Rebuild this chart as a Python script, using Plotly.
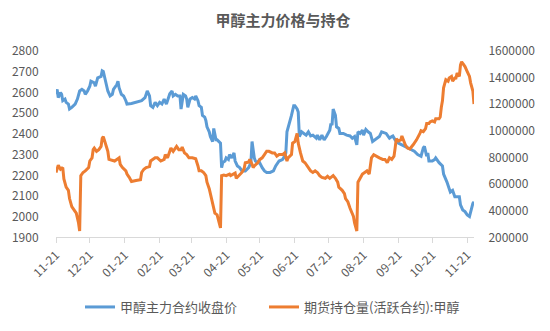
import pandas as pd
import plotly.graph_objects as go

# Calendar day offsets from 2020-11-21 for each observation
price_day = [0, 1, 2, 4, 5, 6, 8, 9, 11, 12, 14, 17, 19, 21, 23, 25, 26, 28, 30, 31,
             34, 35, 37, 40, 41, 42, 44, 46, 48, 50, 51, 54, 55, 56, 58, 60, 62, 63, 67, 71,
             76, 79, 81, 83, 84, 86, 88, 90, 92, 94, 96, 98, 100, 101, 103, 104, 106, 108, 110, 111,
             113, 115, 116, 117, 119, 121, 123, 124, 126, 127, 129, 130, 132, 133, 134, 136, 137, 139, 140, 142,
             143, 145, 146, 147, 148, 150, 151, 153, 154, 156, 158, 159, 161, 163, 165, 168, 171, 173, 174, 176,
             177, 179, 180, 183, 185, 187, 190, 193, 195, 198, 201, 202, 204, 205, 207, 208, 209, 211, 212, 214,
             215, 216, 218, 220, 222, 224, 226, 228, 231, 232, 234, 236, 238, 240, 243, 244, 245, 246, 248, 249,
             251, 252, 255, 258, 261, 263, 265, 267, 268, 270, 272, 273, 275, 277, 279, 281, 283, 285, 287, 289,
             291, 293, 295, 296, 298, 299, 301, 302, 304, 307, 309, 312, 315, 318, 321, 324, 326, 327, 329, 330,
             331, 334, 336, 337, 340, 342, 343, 344, 346, 347, 349, 350, 352, 353, 354, 356, 358, 359, 361, 363,
             365, 367, 368, 370, 371]
price_close = [2591, 2615, 2575, 2599, 2591, 2560, 2568, 2552, 2544, 2520, 2528, 2544, 2568, 2607, 2615, 2607, 2591, 2607, 2630, 2654,
               2646, 2630, 2670, 2677, 2704, 2701, 2654, 2607, 2583, 2591, 2615, 2638, 2654, 2623, 2591, 2583, 2560, 2544, 2547, 2552,
               2560, 2575, 2607, 2583, 2536, 2528, 2552, 2536, 2552, 2544, 2568, 2544, 2583, 2594, 2607, 2583, 2591, 2583, 2583, 2520,
               2591, 2583, 2568, 2528, 2568, 2575, 2568, 2583, 2560, 2536, 2528, 2489, 2481, 2465, 2434, 2410, 2387, 2363, 2426, 2371,
               2371, 2363, 2355, 2237, 2261, 2269, 2284, 2276, 2300, 2284, 2308, 2269, 2245, 2237, 2221, 2221, 2237, 2261, 2363, 2284,
               2269, 2261, 2269, 2237, 2221, 2214, 2214, 2221, 2245, 2269, 2276, 2284, 2308, 2410, 2450, 2458, 2489, 2536, 2536, 2520,
               2505, 2387, 2410, 2402, 2394, 2410, 2390, 2394, 2379, 2394, 2371, 2394, 2371, 2387, 2418, 2450, 2442, 2520, 2489, 2434,
               2426, 2402, 2402, 2394, 2390, 2379, 2387, 2347, 2410, 2402, 2418, 2394, 2421, 2410, 2402, 2363, 2371, 2379, 2387, 2410,
               2406, 2402, 2387, 2379, 2387, 2390, 2371, 2363, 2355, 2347, 2340, 2332, 2324, 2316, 2300, 2292, 2332, 2340, 2292, 2308,
               2269, 2269, 2276, 2284, 2261, 2253, 2245, 2206, 2182, 2167, 2135, 2119, 2127, 2104, 2096, 2096, 2096, 2057, 2033, 2025,
               2009, 2001, 2025, 2064, 2072]

oi_day = [0, 2, 4, 6, 7, 9, 11, 12, 14, 17, 18, 20, 21, 22, 24, 26, 29, 30, 32, 33,
          34, 36, 38, 40, 41, 42, 44, 46, 47, 49, 52, 54, 56, 57, 59, 62, 63, 65, 67, 71,
          75, 76, 78, 80, 83, 84, 86, 88, 90, 93, 96, 97, 99, 101, 102, 104, 105, 107, 109, 111,
          112, 114, 116, 118, 121, 124, 126, 127, 129, 131, 133, 134, 136, 138, 140, 141, 143, 145, 146, 147,
          149, 151, 154, 155, 157, 159, 160, 162, 165, 167, 168, 171, 172, 174, 175, 176, 179, 181, 183, 185,
          187, 189, 192, 194, 196, 198, 201, 203, 205, 206, 209, 210, 212, 214, 215, 217, 219, 221, 223, 226,
          228, 230, 232, 234, 236, 239, 241, 243, 246, 248, 250, 251, 254, 256, 257, 259, 261, 262, 264, 265,
          267, 268, 270, 272, 274, 276, 278, 279, 280, 282, 284, 287, 290, 292, 294, 296, 298, 300, 301, 302,
          304, 306, 307, 309, 310, 312, 314, 317, 320, 323, 324, 326, 328, 329, 331, 332, 334, 336, 337, 340,
          341, 342, 343, 344, 345, 346, 348, 349, 351, 352, 354, 355, 356, 358, 359, 360, 361, 363, 365, 367,
          368, 370, 371]
oi_active = [688000, 742000, 712000, 725000, 639000, 578000, 554000, 492000, 431000, 394000, 382000, 309000, 248000, 664000, 688000, 700000, 725000, 774000, 798000, 859000,
             871000, 847000, 859000, 884000, 945000, 957000, 908000, 847000, 786000, 781000, 774000, 786000, 798000, 749000, 725000, 700000, 676000, 651000, 620000, 627000,
             634000, 688000, 712000, 725000, 732000, 774000, 786000, 798000, 798000, 774000, 786000, 822000, 798000, 847000, 871000, 847000, 859000, 884000, 859000, 859000,
             879000, 835000, 822000, 798000, 798000, 791000, 737000, 700000, 700000, 688000, 664000, 615000, 566000, 492000, 419000, 382000, 370000, 309000, 272000, 664000,
             668000, 664000, 676000, 664000, 676000, 683000, 644000, 664000, 688000, 717000, 761000, 766000, 786000, 749000, 725000, 737000, 761000, 786000, 798000, 822000,
             847000, 847000, 835000, 835000, 810000, 822000, 822000, 835000, 774000, 798000, 822000, 908000, 920000, 981000, 908000, 835000, 774000, 761000, 737000, 700000,
             688000, 700000, 688000, 664000, 651000, 644000, 659000, 644000, 664000, 644000, 615000, 578000, 554000, 529000, 492000, 468000, 419000, 394000, 358000, 309000,
             248000, 615000, 651000, 676000, 688000, 700000, 676000, 725000, 798000, 822000, 810000, 798000, 786000, 786000, 761000, 798000, 786000, 810000, 871000, 940000,
             925000, 933000, 962000, 920000, 896000, 871000, 864000, 896000, 933000, 981000, 1001000, 994000, 1018000, 1055000, 1055000, 1067000, 1075000, 1067000, 1092000, 1092000,
             1104000, 1177000, 1226000, 1324000, 1361000, 1385000, 1373000, 1397000, 1409000, 1373000, 1397000, 1397000, 1434000, 1409000, 1495000, 1519000, 1507000, 1483000, 1446000, 1409000,
             1361000, 1299000, 1202000]

start = pd.Timestamp("2020-11-21")
price_dates = start + pd.to_timedelta(price_day, unit="D")
oi_dates = start + pd.to_timedelta(oi_day, unit="D")

# Monthly ticks on the 21st, Nov 2020 through Nov 2021
tick_dates = [start + pd.DateOffset(months=k) for k in range(13)]
tick_labels = [d.strftime("%m-%d") for d in tick_dates]

GREY = "#595959"
FONT = "Noto Sans CJK SC"

fig = go.Figure()
fig.add_trace(go.Scatter(
    x=price_dates, y=price_close, name="甲醇主力合约收盘价", mode="lines",
    line=dict(color="#5B9BD5", width=3), yaxis="y", legend="legend"))
fig.add_trace(go.Scatter(
    x=oi_dates, y=oi_active, name="期货持仓量(活跃合约):甲醇", mode="lines",
    line=dict(color="#ED7D31", width=3), yaxis="y2", legend="legend2"))

legend_style = dict(orientation="h", xref="container", yref="container",
                    xanchor="left", y=1 - 307 / 331, yanchor="middle",
                    font=dict(family=FONT, size=13, color=GREY),
                    itemwidth=30, bgcolor="rgba(0,0,0,0)")

fig.update_layout(
    width=550, height=331,
    margin=dict(l=54, r=76, t=51, b=89),
    paper_bgcolor="white", plot_bgcolor="white",
    font=dict(family=FONT, color=GREY, size=12),
    title=dict(text="<b>甲醇主力价格与持仓</b>", x=283 / 550, xanchor="center",
               y=1 - 21 / 331, yanchor="middle",
               font=dict(family=FONT, size=15, color=GREY)),
    showlegend=True,
    legend=dict(x=80 / 550, **legend_style),
    legend2=dict(x=264 / 550, **legend_style),
    xaxis=dict(
        type="date", range=[start, price_dates[-1]],
        tickvals=tick_dates, ticktext=tick_labels, tickangle=-45,
        showgrid=False, zeroline=False,
        showline=True, linecolor="#D9D9D9", linewidth=1,
        ticks="outside", ticklen=5, tickcolor="#D9D9D9",
        tickfont=dict(family=FONT, size=12, color=GREY)),
    yaxis=dict(
        range=[1900, 2800], dtick=100, showgrid=False, zeroline=False,
        showline=False, ticks="outside", ticklen=14, tickcolor="rgba(0,0,0,0)",
        tickfont=dict(family=FONT, size=12, color=GREY)),
    yaxis2=dict(
        range=[200000, 1600000], dtick=200000, overlaying="y", side="right",
        showgrid=False, zeroline=False, showline=False, tickformat="d",
        ticks="outside", ticklen=11, tickcolor="rgba(0,0,0,0)",
        tickfont=dict(family=FONT, size=12, color=GREY)),
)

fig.write_html("out.html")
